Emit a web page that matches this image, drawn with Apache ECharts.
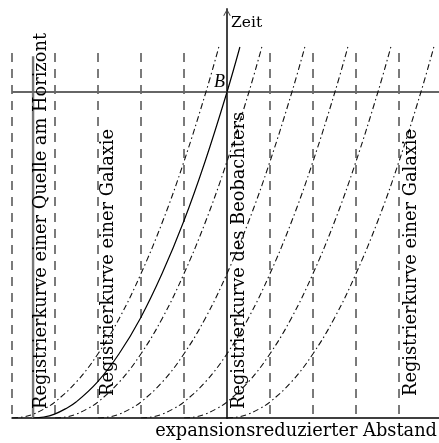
<!DOCTYPE html>
<html><head><meta charset="utf-8">
<script src="https://cdn.jsdelivr.net/npm/echarts@6/dist/echarts.min.js"></script>
<style>html,body{margin:0;padding:0;background:#fff}#c{width:439px;height:443px}</style>
</head><body><div id="c"></div>
<script>
// --- data (comoving distance in galaxy spacings, time with "now" = 1) ---
const galaxyX = [-5, -4, -3, -2, -1, 1, 2, 3, 4];
const worldLineTop = 1.12;
const horizonX = -4.51;
const horizonTop = 1.11;
const nowT = 1;
const coneT = [0, 0.003, 0.012, 0.028, 0.049, 0.111, 0.197, 0.307, 0.443, 0.602, 0.787, 1, 1.138];
const solidConeX = [-4.51, -4.26, -4.01, -3.76, -3.51, -3.01, -2.51, -2.01, -1.51, -1.01, -0.51, 0, 0.30];
const cone1X = [-5, -4.75, -4.5, -4.25, -4, -3.5, -3, -2.5, -2, -1.5, -1, -0.49, -0.19];
const cone2X = [-4, -3.75, -3.5, -3.25, -3, -2.5, -2, -1.5, -1, -0.5, 0, 0.51, 0.81];
const cone3X = [-3, -2.75, -2.5, -2.25, -2, -1.5, -1, -0.5, 0, 0.5, 1, 1.51, 1.81];
const cone4X = [-2, -1.75, -1.5, -1.25, -1, -0.5, 0, 0.5, 1, 1.5, 2, 2.51, 2.81];
const cone5X = [-1, -0.75, -0.5, -0.25, 0, 0.5, 1, 1.5, 2, 2.5, 3, 3.51, 3.81];
const cone6X = [0, 0.25, 0.5, 0.75, 1, 1.5, 2, 2.5, 3, 3.5, 4, 4.51, 4.81];
const dashDotCones = [cone1X, cone2X, cone3X, cone4X, cone5X, cone6X];

const labelQuelle = 'Registrierkurve einer Quelle am Horizont';
const labelGalaxie = 'Registrierkurve einer Galaxie';
const labelBeob = 'Registrierkurve des Beobachters';
const axisX = 'expansionsreduzierter Abstand';
const axisY = 'Zeit';
const pointB = 'B';

const xMin = -5, xMax = 4.93, tMax = 1.2546;

const zip = (xs) => xs.map((x, i) => [x, coneT[i]]);
const series = [];
galaxyX.forEach(x => series.push({
  type: 'line', silent: true, symbol: 'none', z: 1,
  data: [[x, worldLineTop], [x, 0]],
  lineStyle: { color: '#333', width: 1.3, type: [9, 7] }
}));
series.push({ type: 'line', silent: true, symbol: 'none', z: 2,
  data: [[horizonX, 0], [horizonX, horizonTop]],
  lineStyle: { color: '#777', width: 2.4 } });
series.push({ type: 'line', silent: true, symbol: 'none', z: 2,
  data: [[xMin, nowT], [xMax, nowT]],
  lineStyle: { color: '#666', width: 2 } });
dashDotCones.forEach(c => series.push({
  type: 'line', silent: true, symbol: 'none', smooth: 0.4, z: 3,
  data: zip(c), lineStyle: { color: '#111', width: 1.1, type: [6, 3, 1.5, 3] }
}));
series.push({ type: 'line', silent: true, symbol: 'none', smooth: 0.4, z: 3,
  data: zip(solidConeX), lineStyle: { color: '#000', width: 1.2 } });

const chart = echarts.init(document.getElementById('c'), null, { renderer: 'canvas' });
const F = 'DejaVu Serif';
const LF = '17.8px "' + F + '"';
chart.setOption({
  animation: false,
  grid: { left: 12, right: 0, top: 9, bottom: 25 },
  xAxis: { type: 'value', min: xMin, max: xMax,
    axisLine: { show: true, onZero: false, lineStyle: { color: '#000', width: 1.5 } },
    axisTick: { show: false }, axisLabel: { show: false }, splitLine: { show: false } },
  yAxis: { type: 'value', min: 0, max: tMax,
    axisLine: { show: true, onZero: true, symbol: ['none', 'path://M0,8 L4.5,0 L9,8 L8,8.5 L4.5,2 L1,8.5 Z'],
      symbolSize: [9, 7], symbolOffset: [0, -3.5], lineStyle: { color: '#444', width: 2 } },
    axisTick: { show: false }, axisLabel: { show: false }, splitLine: { show: false } },
  series: series,
  graphic: [
    { type: 'text', x: 41.6, y: 409, rotation: Math.PI / 2, z: 10,
      style: { text: labelQuelle, font: LF, fill: '#000', align: 'left', verticalAlign: 'middle' } },
    { type: 'text', x: 108, y: 396, rotation: Math.PI / 2, z: 10,
      style: { text: labelGalaxie, font: LF, fill: '#000', align: 'left', verticalAlign: 'middle' } },
    { type: 'text', x: 239.5, y: 409, rotation: Math.PI / 2, z: 10,
      style: { text: labelBeob, font: LF, fill: '#000', align: 'left', verticalAlign: 'middle' } },
    { type: 'text', x: 411.5, y: 396, rotation: Math.PI / 2, z: 10,
      style: { text: labelGalaxie, font: LF, fill: '#000', align: 'left', verticalAlign: 'middle' } },
    { type: 'text', x: 437, y: 431.6, z: 10,
      style: { text: axisX, font: LF, fill: '#000', align: 'right', verticalAlign: 'middle' } },
    { type: 'text', x: 231, y: 22.5, z: 10,
      style: { text: axisY, font: '15.5px "' + F + '"', fill: '#000', align: 'left', verticalAlign: 'middle' } },
    { type: 'text', x: 225, y: 82, z: 10,
      style: { text: pointB, font: 'italic 18px "Liberation Serif"', fill: '#000', align: 'right', verticalAlign: 'middle' } }
  ]
});
</script></body></html>
